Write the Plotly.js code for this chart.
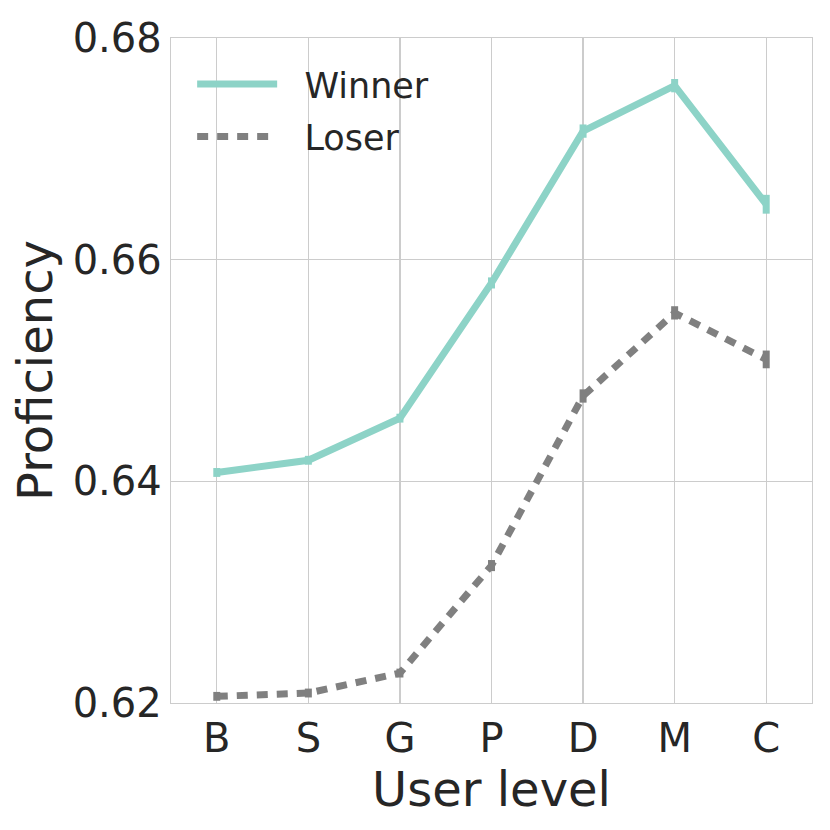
<!DOCTYPE html>
<html>
<head>
<meta charset="utf-8">
<script src="https://cdn.plot.ly/plotly-3.0.1.min.js"></script>
<style>body{margin:0;padding:0;background:#fff;}</style>
</head>
<body>
<div id="chart" style="width:830px;height:830px;"></div>
<script>
var levels = ["B", "S", "G", "P", "D", "M", "C"];
var winner = [0.6408, 0.6419, 0.6457, 0.6579, 0.6716, 0.6757, 0.6650];
var winnerErr = [0.0004, 0.0004, 0.0004, 0.0005, 0.0006, 0.0006, 0.00085];
var loser = [0.6206, 0.6209, 0.6227, 0.6324, 0.6477, 0.6552, 0.6510];
var loserErr = [0.0004, 0.0004, 0.0004, 0.0005, 0.0006, 0.0006, 0.0008];
var yTicks = [0.62, 0.64, 0.66, 0.68];

var traces = [
  {
    x: levels, y: winner, name: "\u00a0\u00a0Winner", legendgroup: "w", type: "scatter", mode: "lines",
    line: {color: "#8dd3c7", width: 7},
    error_y: {type: "data", array: winnerErr, visible: true, color: "#8dd3c7", thickness: 7, width: 0}
  },
  {
    x: levels, y: loser, name: "\u00a0\u00a0Loser", legendgroup: "l", type: "scatter", mode: "lines",
    line: {color: "#808080", width: 7, dash: "11px,9px"},
    error_y: {type: "data", array: loserErr, visible: true, color: "#808080", thickness: 7, width: 0}
  }
];

var layout = {
  width: 830, height: 830,
  margin: {l: 171, r: 18, t: 38, b: 127},
  paper_bgcolor: "#ffffff", plot_bgcolor: "#ffffff",
  font: {family: "DejaVu Sans", color: "#262626"},
  showlegend: true,
  legend: {
    x: 0.033, y: 0.975, xanchor: "left", yanchor: "top",
    bgcolor: "rgba(0,0,0,0)", font: {size: 35, color: "#262626"},
    itemwidth: 80, tracegroupgap: 4
  },
  xaxis: {
    type: "category", range: [-0.5, 6.5],
    showgrid: true, gridcolor: "#cccccc", gridwidth: 1.2,
    showline: true, linecolor: "#cccccc", linewidth: 1.3, mirror: true,
    ticks: "", tickfont: {size: 40, color: "#262626"},
    title: {text: "User level", font: {size: 48, color: "#262626"}, standoff: 0},
    zeroline: false, automargin: false
  },
  yaxis: {
    range: [0.62, 0.68], tickvals: yTicks, ticktext: yTicks.map(function(v){return v.toFixed(2);}),
    showgrid: true, gridcolor: "#cccccc", gridwidth: 1.2,
    showline: true, linecolor: "#cccccc", linewidth: 1.3, mirror: true,
    ticks: "", tickfont: {size: 40, color: "#262626"},
    title: {text: "Proficiency", font: {size: 48, color: "#262626"}, standoff: 4},
    zeroline: false, automargin: false
  }
};

Plotly.newPlot("chart", traces, layout, {displayModeBar: false, staticPlot: true});
</script>
</body>
</html>
